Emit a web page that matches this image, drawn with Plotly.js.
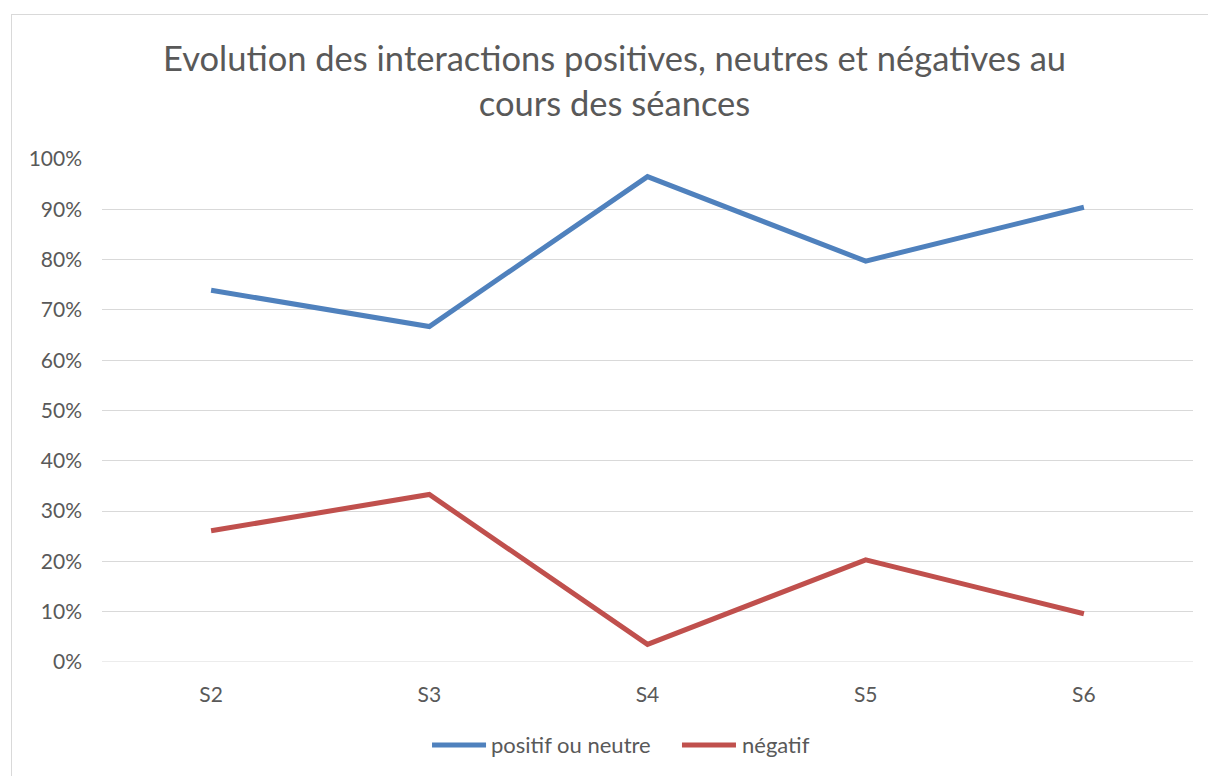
<!DOCTYPE html>
<html>
<head>
<meta charset="utf-8">
<script src="https://cdn.plot.ly/plotly-3.0.1.min.js"></script>
<style>
html,body{margin:0;padding:0;background:#fff;overflow:hidden;}
#chart{width:1208px;height:776px;position:absolute;left:0;top:0;}
#frame{position:absolute;left:11px;top:14px;width:1250px;height:800px;border:1px solid #d9d9d9;pointer-events:none;}
</style>
</head>
<body>
<div id="chart"></div>
<div id="frame"></div>
<script>
const categories = ["S2", "S3", "S4", "S5", "S6"];
const positifOuNeutre = [0.739, 0.667, 0.965, 0.797, 0.904];
const negatif = [0.261, 0.333, 0.035, 0.203, 0.096];
const seriesNames = ["positif ou neutre", "négatif"];
const seriesColors = ["#4f81bd", "#c0504d"];
const yTickVals = [0, 0.1, 0.2, 0.3, 0.4, 0.5, 0.6, 0.7, 0.8, 0.9, 1.0];
const yTickText = ["0%", "10%", "20%", "30%", "40%", "50%", "60%", "70%", "80%", "90%", "100%"];
const titleText = "Evolution des interactions positives, neutres et négatives au<br>cours des séances";

const font = "Lato, 'Open Sans', sans-serif";
const grey = "#595959";
const traces = [
  {x: categories, y: positifOuNeutre, type: "scatter", mode: "lines", name: seriesNames[0],
   line: {color: seriesColors[0], width: 5}},
  {x: categories, y: negatif, type: "scatter", mode: "lines", name: seriesNames[1],
   line: {color: seriesColors[1], width: 5}}
];

// custom legend (Excel-style long line samples)
const legendY = -0.165;
const legendItems = [
  {x0: 0.3025, x1: 0.352, tx: 0.3547},
  {x0: 0.5316, x1: 0.5811, tx: 0.5848}
];
const shapes = [{type: "line", xref: "paper", yref: "y", x0: 0, x1: 1, y0: 0, y1: 0,
                 line: {color: "#d9d9d9", width: 1}, layer: "below"}];
const annotations = [{
  text: titleText, xref: "paper", yref: "paper", x: 0.470, y: 1.158,
  xanchor: "center", yanchor: "middle", showarrow: false,
  font: {family: font, size: 34.5, color: grey}
}];
legendItems.forEach((it, i) => {
  shapes.push({type: "line", xref: "paper", yref: "paper", x0: it.x0, x1: it.x1, y0: legendY, y1: legendY,
               line: {color: seriesColors[i], width: 5}});
  annotations.push({text: seriesNames[i], xref: "paper", yref: "paper", x: it.tx, y: legendY,
                    xanchor: "left", yanchor: "middle", showarrow: false,
                    font: {family: font, size: 22, color: grey}});
});

const layout = {
  width: 1208, height: 776,
  margin: {l: 102, r: 15, t: 159, b: 114},
  paper_bgcolor: "#fff", plot_bgcolor: "#fff",
  font: {family: font, color: grey, size: 21},
  xaxis: {type: "category", range: [-0.5, 4.5], showgrid: false, zeroline: false, showline: false,
          ticks: "", ticklabelstandoff: 18, tickfont: {size: 21, color: grey}, fixedrange: true},
  yaxis: {range: [0, 1], tickvals: yTickVals, ticktext: yTickText, showgrid: true, gridcolor: "#d9d9d9",
          gridwidth: 1, zeroline: false, showline: false, ticks: "", ticklabelstandoff: 19,
          tickfont: {size: 21, color: grey}, fixedrange: true},
  showlegend: false,
  shapes: shapes,
  annotations: annotations
};
Plotly.newPlot("chart", traces, layout, {displayModeBar: false, staticPlot: true});
</script>
</body>
</html>
